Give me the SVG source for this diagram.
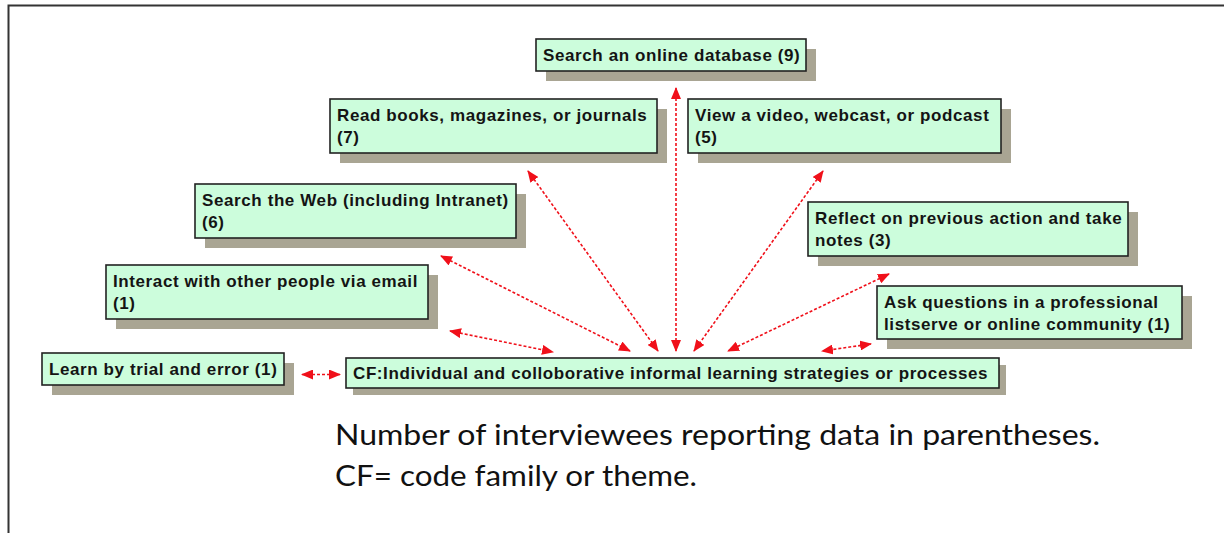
<svg xmlns="http://www.w3.org/2000/svg" width="1224" height="533" viewBox="0 0 1224 533">
<defs>
<style>
.box{fill:#ccfddc;stroke:#222;stroke-width:1.6}
.sh{fill:#a9a593}
.t{font-family:"Liberation Sans",Arial,sans-serif;font-weight:bold;font-size:17px;letter-spacing:0.6px;fill:#141414}
.c{fill:none;stroke:#f0101a;stroke-width:1.6;stroke-dasharray:3 2;marker-start:url(#ah);marker-end:url(#ah)}
.note{font-family:Lato,"Open Sans",sans-serif;font-size:28px;fill:#111}
</style>
<marker id="ah" markerUnits="userSpaceOnUse" markerWidth="12" markerHeight="10" refX="11" refY="5" orient="auto-start-reverse" viewBox="0 0 12 10">
<path d="M0,0 L12,5 L0,10 z" fill="#f0101a"/>
</marker>
</defs>
<rect width="1224" height="533" fill="#fff"/>
<path d="M8.5,533 V5.5 H1224" fill="none" stroke="#333" stroke-width="2"/>

<g id="connectors">
<line class="c" x1="450" y1="331" x2="553" y2="352"/>
<line class="c" x1="441" y1="256" x2="630" y2="351"/>
<line class="c" x1="528" y1="171" x2="658" y2="351"/>
<line class="c" x1="676" y1="88" x2="676" y2="351"/>
<line class="c" x1="823" y1="171" x2="694" y2="351"/>
<line class="c" x1="889" y1="274" x2="728" y2="351"/>
<line class="c" x1="871" y1="344" x2="822" y2="351"/>
<line class="c" x1="302" y1="374.5" x2="340" y2="374.5"/>
</g>

<g id="n-database">
<rect class="sh" x="546" y="49" width="270" height="32"/>
<rect class="box" x="536" y="39" width="270" height="32"/>
<text class="t" x="543" y="61">Search an online database (9)</text>
</g>

<g id="n-books">
<rect class="sh" x="340" y="109" width="327" height="54"/>
<rect class="box" x="330" y="99" width="327" height="54"/>
<text class="t" x="337" y="121">Read books, magazines, or journals</text>
<text class="t" x="337" y="143">(7)</text>
</g>

<g id="n-video">
<rect class="sh" x="698" y="109" width="313" height="54"/>
<rect class="box" x="688" y="99" width="313" height="54"/>
<text class="t" x="695" y="121">View a video, webcast, or podcast</text>
<text class="t" x="695" y="143">(5)</text>
</g>

<g id="n-web">
<rect class="sh" x="205" y="194" width="321" height="54"/>
<rect class="box" x="195" y="184" width="321" height="54"/>
<text class="t" x="202" y="206">Search the Web (including Intranet)</text>
<text class="t" x="202" y="228">(6)</text>
</g>

<g id="n-reflect">
<rect class="sh" x="818" y="212" width="320" height="54"/>
<rect class="box" x="808" y="202" width="320" height="54"/>
<text class="t" x="815" y="224">Reflect on previous action and take</text>
<text class="t" x="815" y="246">notes (3)</text>
</g>

<g id="n-interact">
<rect class="sh" x="116" y="275" width="322" height="54"/>
<rect class="box" x="106" y="265" width="322" height="54"/>
<text class="t" x="113" y="287">Interact with other people via email</text>
<text class="t" x="113" y="309">(1)</text>
</g>

<g id="n-ask">
<rect class="sh" x="887" y="296" width="305" height="53"/>
<rect class="box" x="877" y="286" width="305" height="53"/>
<text class="t" x="884" y="308">Ask questions in a professional</text>
<text class="t" x="884" y="330">listserve or online community (1)</text>
</g>

<g id="n-learn">
<rect class="sh" x="52" y="363" width="242" height="32"/>
<rect class="box" x="42" y="353" width="242" height="32"/>
<text class="t" x="49" y="375">Learn by trial and error (1)</text>
</g>

<g id="n-cf">
<rect class="sh" x="353" y="365" width="653" height="30"/>
<rect class="box" x="346" y="358" width="653" height="30"/>
<text class="t" x="353" y="379">CF:Individual and colloborative informal learning strategies or processes</text>
</g>

<g id="note">
<text class="note" x="335" y="445" textLength="765" lengthAdjust="spacingAndGlyphs">Number of interviewees reporting data in parentheses.</text>
<text class="note" x="335" y="486" textLength="362" lengthAdjust="spacingAndGlyphs">CF= code family or theme.</text>
</g>
</svg>
